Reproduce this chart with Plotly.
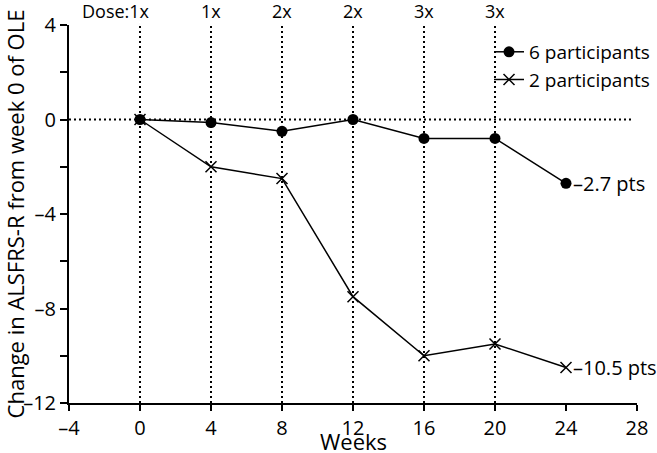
import plotly.graph_objects as go

weeks = [0, 4, 8, 12, 16, 20, 24]
six_participants = [0, -0.13, -0.5, 0, -0.8, -0.8, -2.7]
two_participants = [0, -2, -2.5, -7.5, -10, -9.5, -10.5]
dose_weeks = [0, 4, 8, 12, 16, 20]
dose_labels = ["1x", "1x", "2x", "2x", "3x", "3x"]
end_labels = ["–2.7 pts", "–10.5 pts"]
x_ticks = [-4, 0, 4, 8, 12, 16, 20, 24, 28]
x_ticktext = ["–4", "0", "4", "8", "12", "16", "20", "24", "28"]
y_ticks = [4, 2, 0, -2, -4, -6, -8, -10, -12]
y_ticktext = ["4", "", "0", "", "–4", "", "–8", "", "–12"]

FONT = "Open Sans"
fig = go.Figure()

fig.add_trace(go.Scatter(
    x=weeks, y=six_participants, mode="lines+markers", name="6 participants",
    line=dict(color="black", width=1.5),
    marker=dict(symbol="circle", size=11, color="black"),
))
fig.add_trace(go.Scatter(
    x=weeks, y=two_participants, mode="lines+markers", name="2 participants",
    line=dict(color="black", width=1.5),
    marker=dict(symbol="x-thin", size=11, color="black", line=dict(color="black", width=1.5)),
))

shapes = []
for w in dose_weeks:
    shapes.append(dict(type="line", xref="x", yref="y", x0=w, x1=w, y0=-12, y1=4,
                       line=dict(color="black", width=2, dash="2px,3px"), layer="below"))
shapes.append(dict(type="line", xref="x", yref="y", x0=-4, x1=27.8, y0=0, y1=0,
                   line=dict(color="black", width=2, dash="2px,3px"), layer="below"))

annotations = []
for i, (w, lab) in enumerate(zip(dose_weeks, dose_labels)):
    if i == 0:
        annotations.append(dict(x=w, y=1, xref="x", yref="paper", text="Dose:" + lab,
                                showarrow=False, xanchor="right", yanchor="bottom", xshift=12, yshift=0,
                                font=dict(size=18, color="black", family=FONT)))
    else:
        annotations.append(dict(x=w, y=1, xref="x", yref="paper", text=lab,
                                showarrow=False, xanchor="center", yanchor="bottom", yshift=0,
                                font=dict(size=18, color="black", family=FONT)))
annotations.append(dict(x=weeks[-1], y=six_participants[-1], xref="x", yref="y", text=end_labels[0],
                        showarrow=False, xanchor="left", xshift=5,
                        font=dict(size=20, color="black", family=FONT)))
annotations.append(dict(x=weeks[-1], y=two_participants[-1], xref="x", yref="y", text=end_labels[1],
                        showarrow=False, xanchor="left", xshift=5,
                        font=dict(size=20, color="black", family=FONT)))
annotations.append(dict(x=0.5, y=0, xref="paper", yref="paper", text="Weeks",
                        showarrow=False, xanchor="center", yanchor="top", yshift=-21,
                        font=dict(size=22, color="black", family=FONT)))

fig.update_layout(
    width=657, height=453,
    margin=dict(l=69, r=2, t=25, b=50),
    paper_bgcolor="white", plot_bgcolor="white",
    font=dict(family=FONT, size=20, color="black"),
    shapes=shapes, annotations=annotations,
    showlegend=True,
    legend=dict(x=1.0317, y=0.979, xanchor="right", yanchor="top",
                bgcolor="rgba(0,0,0,0)", font=dict(size=19, family=FONT, color="black"),
                itemwidth=30, tracegroupgap=0),
    xaxis=dict(range=[-4, 28], tickvals=x_ticks, ticktext=x_ticktext,
               showgrid=False, zeroline=False, showline=True, linecolor="black", linewidth=2,
               ticks="outside", ticklen=6, tickwidth=2, tickcolor="black", automargin=False,
               tickfont=dict(size=20, family=FONT)),
    yaxis=dict(range=[-12, 4], tickvals=y_ticks, ticktext=y_ticktext,
               showgrid=False, zeroline=False, showline=True, linecolor="black", linewidth=2,
               ticks="outside", ticklen=7, tickwidth=2, tickcolor="black", automargin=False,
               title=dict(text="Change in ALSFRS-R from week 0 of OLE", standoff=0,
                          font=dict(size=22, family=FONT)),
               tickfont=dict(size=20, family=FONT)),
)

fig.write_html("out.html", config={"displayModeBar": False},
               post_script="document.body.style.margin='0';")
